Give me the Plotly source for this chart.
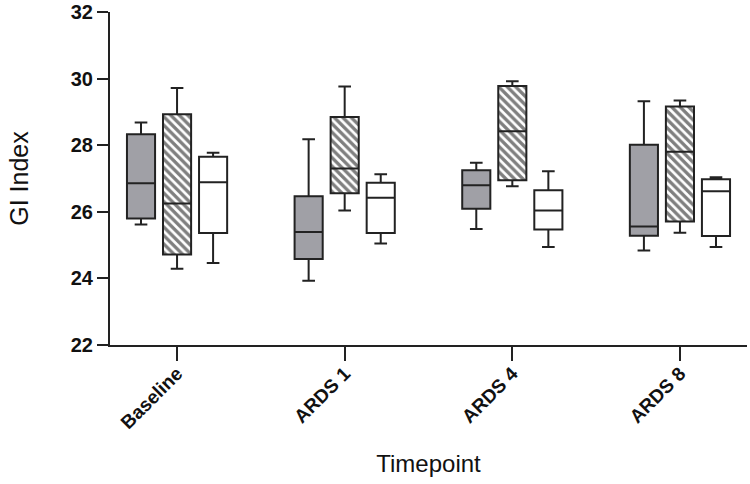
import plotly.graph_objects as go

categories = ["Baseline", "ARDS 1", "ARDS 4", "ARDS 8"]

# Group A (grey filled)
a_lower = [25.62, 23.93, 25.48, 24.84]
a_q1 = [25.80, 24.58, 26.09, 25.28]
a_med = [26.86, 25.39, 26.80, 25.56]
a_q3 = [28.33, 26.47, 27.25, 28.01]
a_upper = [28.68, 28.18, 27.47, 29.32]

# Group B (hatched)
b_lower = [24.29, 26.04, 26.77, 25.37]
b_q1 = [24.72, 26.56, 26.95, 25.71]
b_med = [26.25, 27.30, 28.42, 27.80]
b_q3 = [28.93, 28.85, 29.78, 29.16]
b_upper = [29.72, 29.76, 29.92, 29.34]

# Group C (white)
c_lower = [24.46, 25.05, 24.94, 24.94]
c_q1 = [25.36, 25.36, 25.47, 25.27]
c_med = [26.89, 26.42, 26.04, 26.62]
c_q3 = [27.65, 26.87, 26.65, 26.98]
c_upper = [27.77, 27.13, 27.22, 27.04]

y_ticks = [22, 24, 26, 28, 30, 32]

BOXGAP = 0.355
BOXGROUPGAP = 0.22
box_w = (1 - BOXGAP) * (1 - BOXGROUPGAP) / 3

line_col = "#222222"
fig = go.Figure()

# hatched fill underneath middle box
fig.add_trace(go.Bar(
    x=categories, base=b_q1, y=[q3 - q1 for q1, q3 in zip(b_q1, b_q3)],
    width=box_w, offset=-box_w / 2,
    marker=dict(color="white", line=dict(width=0),
                pattern=dict(shape="\\", fgcolor="#000000", bgcolor="white", size=6, solidity=0.55)),
    showlegend=False, hoverinfo="skip"))

def add_box(lower, q1, med, q3, upper, fill, grp):
    fig.add_trace(go.Box(
        x=categories, q1=q1, median=med, q3=q3, lowerfence=lower, upperfence=upper,
        fillcolor=fill, line=dict(color=line_col, width=2), whiskerwidth=0.45,
        boxpoints=False, showlegend=False, offsetgroup=grp, alignmentgroup="all"))

add_box(a_lower, a_q1, a_med, a_q3, a_upper, "#a0a0a6", "a")
add_box(b_lower, b_q1, b_med, b_q3, b_upper, "rgba(0,0,0,0)", "b")
add_box(c_lower, c_q1, c_med, c_q3, c_upper, "white", "c")

fig.update_layout(
    width=750, height=484,
    margin=dict(l=110, r=3, t=12, b=139),
    plot_bgcolor="white", paper_bgcolor="white",
    boxmode="group", boxgap=BOXGAP, boxgroupgap=BOXGROUPGAP,
    barmode="overlay",
    xaxis=dict(
        type="category", range=[-0.4, 3.4], showline=True, linecolor=line_col, linewidth=2,
        ticks="outside", ticklen=14, tickwidth=2, tickcolor=line_col, tickangle=-45,
        ticklabelstandoff=-6,
        tickfont=dict(family="Liberation Sans, Arial", size=19, color="#111", weight="bold"),
        showgrid=False, zeroline=False, automargin=False,
        title=dict(text="Timepoint", font=dict(family="Liberation Sans, Arial", size=24, color="#111"), standoff=23),
    ),
    yaxis=dict(
        range=[22, 32], tickvals=y_ticks, showline=True, linecolor=line_col, linewidth=2,
        ticks="outside", ticklen=11, tickwidth=2, tickcolor=line_col,
        tickfont=dict(family="Liberation Sans, Arial", size=20, color="#111", weight="bold"),
        showgrid=False, zeroline=False, automargin=False,
        title=dict(text="GI Index", font=dict(family="Liberation Sans, Arial", size=25, color="#111"), standoff=35),
    ),
)

fig.write_html("out.html", config={"displayModeBar": False},
               post_script="document.body.style.margin='0';")
